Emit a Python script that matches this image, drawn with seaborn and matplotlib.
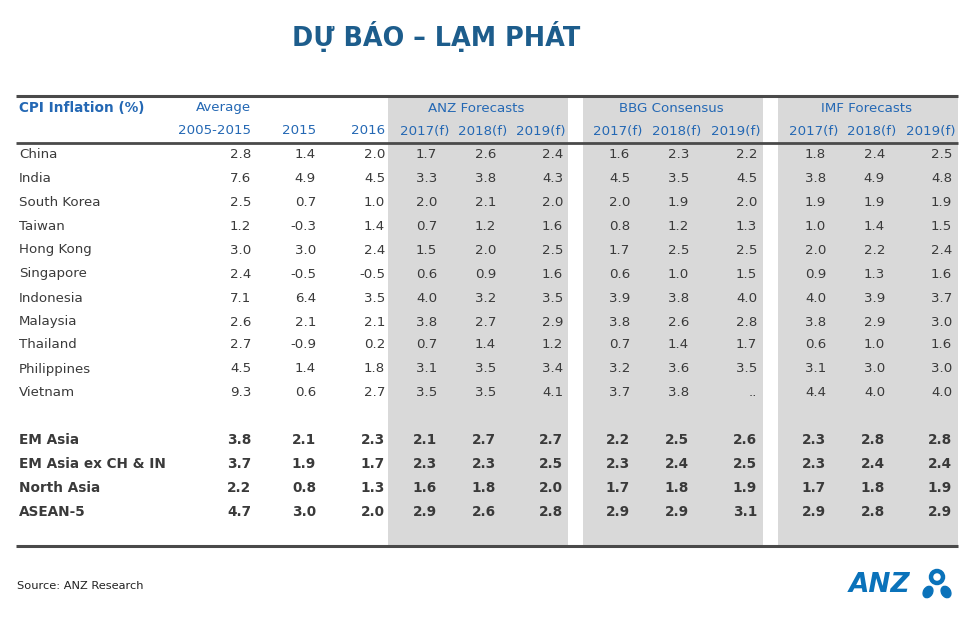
#!/usr/bin/env python3
"""Recreate the ANZ CPI inflation forecast table."""

import matplotlib.pyplot as plt
import matplotlib.patches as mpatches
import seaborn as sns

countries = ["China", "India", "South Korea", "Taiwan", "Hong Kong", "Singapore",
             "Indonesia", "Malaysia", "Thailand", "Philippines", "Vietnam"]
aggregates = ["EM Asia", "EM Asia ex CH & IN", "North Asia", "ASEAN-5"]

# rows: countries then aggregates; None = ".."
avg_2005_2015 = [2.8, 7.6, 2.5, 1.2, 3.0, 2.4, 7.1, 2.6, 2.7, 4.5, 9.3, 3.8, 3.7, 2.2, 4.7]
act_2015 = [1.4, 4.9, 0.7, -0.3, 3.0, -0.5, 6.4, 2.1, -0.9, 1.4, 0.6, 2.1, 1.9, 0.8, 3.0]
act_2016 = [2.0, 4.5, 1.0, 1.4, 2.4, -0.5, 3.5, 2.1, 0.2, 1.8, 2.7, 2.3, 1.7, 1.3, 2.0]
anz_2017 = [1.7, 3.3, 2.0, 0.7, 1.5, 0.6, 4.0, 3.8, 0.7, 3.1, 3.5, 2.1, 2.3, 1.6, 2.9]
anz_2018 = [2.6, 3.8, 2.1, 1.2, 2.0, 0.9, 3.2, 2.7, 1.4, 3.5, 3.5, 2.7, 2.3, 1.8, 2.6]
anz_2019 = [2.4, 4.3, 2.0, 1.6, 2.5, 1.6, 3.5, 2.9, 1.2, 3.4, 4.1, 2.7, 2.5, 2.0, 2.8]
bbg_2017 = [1.6, 4.5, 2.0, 0.8, 1.7, 0.6, 3.9, 3.8, 0.7, 3.2, 3.7, 2.2, 2.3, 1.7, 2.9]
bbg_2018 = [2.3, 3.5, 1.9, 1.2, 2.5, 1.0, 3.8, 2.6, 1.4, 3.6, 3.8, 2.5, 2.4, 1.8, 2.9]
bbg_2019 = [2.2, 4.5, 2.0, 1.3, 2.5, 1.5, 4.0, 2.8, 1.7, 3.5, None, 2.6, 2.5, 1.9, 3.1]
imf_2017 = [1.8, 3.8, 1.9, 1.0, 2.0, 0.9, 4.0, 3.8, 0.6, 3.1, 4.4, 2.3, 2.3, 1.7, 2.9]
imf_2018 = [2.4, 4.9, 1.9, 1.4, 2.2, 1.3, 3.9, 2.9, 1.0, 3.0, 4.0, 2.8, 2.4, 1.8, 2.8]
imf_2019 = [2.5, 4.8, 1.9, 1.5, 2.4, 1.6, 3.7, 3.0, 1.6, 3.0, 4.0, 2.8, 2.4, 1.9, 2.9]

columns = [avg_2005_2015, act_2015, act_2016, anz_2017, anz_2018, anz_2019,
           bbg_2017, bbg_2018, bbg_2019, imf_2017, imf_2018, imf_2019]
year_labels = ["2005-2015", "2015", "2016"] + ["2017(f)", "2018(f)", "2019(f)"] * 3
group_labels = ["ANZ Forecasts", "BBG Consensus", "IMF Forecasts"]

# layout (pixels)
value_right = [251, 316, 385, 437, 496, 563, 630, 689, 757, 826, 885, 952]
header_right = [251, 316, 385, 449, 507, 565, 642, 701, 760, 838, 896, 955]
group_spans = [(388, 568), (583, 763), (778, 958)]
row_y = [155, 179, 203, 227, 250, 274, 298, 322, 345, 369, 393, 440, 464, 488, 512]

TEXT = "#3a3a3a"
BLUE = "#2468b4"
TITLE = "#1d5d8c"
LINE = "#4a4a4a"
SHADE = "#d9d9d9"
FS = 9.6
FS_BOLD = 9.8


def main() -> None:
    sns.set_theme(style="white")
    plt.rcParams["font.family"] = ["DejaVu Sans"]

    fig = plt.figure(figsize=(9.8, 6.21), dpi=100)
    ax = fig.add_axes([0, 0, 1, 1])
    ax.set_xlim(0, 980)
    ax.set_ylim(621, 0)
    ax.axis("off")

    for x0, x1 in group_spans:
        ax.add_patch(mpatches.Rectangle((x0, 97), x1 - x0, 449, color=SHADE, lw=0))

    ax.plot([16, 958], [96, 96], color=LINE, lw=2.2, solid_capstyle="butt")
    ax.plot([16, 958], [143, 143], color=LINE, lw=2.0, solid_capstyle="butt")
    ax.plot([16, 958], [546, 546], color=LINE, lw=2.2, solid_capstyle="butt")

    ax.text(436, 37, "DỰ BÁO – LẠM PHÁT", ha="center", va="center",
            fontsize=18.4, fontweight="bold", color=TITLE)

    ax.text(19, 108, "CPI Inflation (%)", ha="left", va="center",
            fontsize=FS_BOLD, fontweight="bold", color=BLUE)
    ax.text(251, 108, "Average", ha="right", va="center", fontsize=FS, color=BLUE)
    for (x0, x1), label in zip(group_spans, group_labels):
        ax.text((x0 + x1) / 2 - 2, 108, label, ha="center", va="center",
                fontsize=FS, color=BLUE)
    for xr, label in zip(header_right, year_labels):
        ax.text(xr, 131, label, ha="right", va="center", fontsize=FS, color=BLUE)

    labels = countries + aggregates
    for i, (label, y) in enumerate(zip(labels, row_y)):
        bold = label in aggregates
        weight = "bold" if bold else "normal"
        size = FS_BOLD if bold else FS
        ax.text(19, y, label, ha="left", va="center", fontsize=size,
                fontweight=weight, color=TEXT)
        for col, xr in zip(columns, value_right):
            v = col[i]
            s = ".." if v is None else f"{v:.1f}"
            ax.text(xr, y, s, ha="right", va="center", fontsize=size,
                    fontweight=weight, color=TEXT)

    ax.text(17, 586, "Source: ANZ Research", ha="left", va="center",
            fontsize=8.2, color="#222222")

    # ANZ logo
    logo_blue = "#0a72ba"
    ax.text(849, 585, "ANZ", ha="left", va="center", fontsize=19,
            fontweight="bold", fontstyle="italic", color=logo_blue)
    ax.add_patch(mpatches.Circle((937, 577), 6, fill=False, ec=logo_blue, lw=3.2))
    ax.add_patch(mpatches.Ellipse((928, 592), 9, 12, angle=30, color=logo_blue))
    ax.add_patch(mpatches.Ellipse((946, 592), 9, 12, angle=-30, color=logo_blue))

    fig.savefig("out.png", dpi=100)


if __name__ == "__main__":
    main()
